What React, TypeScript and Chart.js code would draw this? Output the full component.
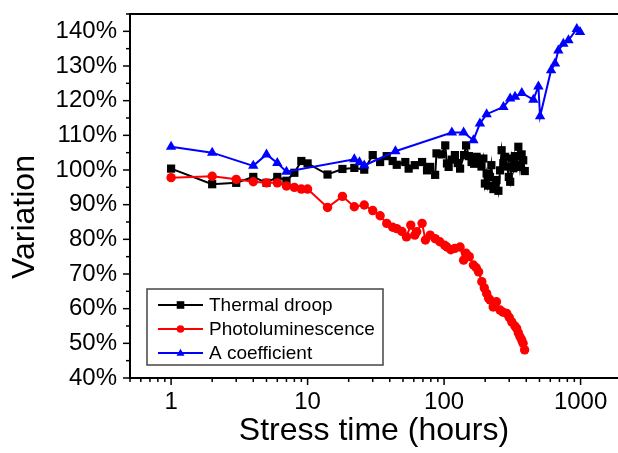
import React, { useEffect, useRef } from 'react';
import { Chart, registerables } from 'chart.js';

Chart.register(...registerables);

const SERIES_NAMES = ['Thermal droop', 'Photoluminescence', 'A coefficient'];
const X_LABEL = 'Stress time (hours)';
const Y_LABEL = 'Variation';
const X_TICKS = [1, 10, 100, 1000];
const Y_TICKS = [40, 50, 60, 70, 80, 90, 100, 110, 120, 130, 140];

const DROOP_T = [1, 2, 3, 4, 5, 6, 7, 8, 9, 10, 14, 18, 22, 26, 30, 34, 38, 42, 45, 52, 55, 61, 69, 75, 79, 86, 88, 96, 102, 105, 108, 114, 120, 126, 131, 140, 145, 152, 159, 166, 173, 180, 188, 194, 199, 205, 210, 217, 222, 230, 235, 242, 250, 257, 264, 272, 280, 290, 298, 305, 313, 322, 330, 340, 350, 360, 370, 380, 390];
const DROOP_V = [100.4, 95.9, 96.3, 98.0, 96.3, 98.0, 96.9, 99.2, 102.6, 101.9, 98.7, 100.3, 100.6, 100.1, 104.3, 102.3, 104.0, 102.6, 101.5, 102.3, 100.4, 101.4, 102.3, 99.9, 100.9, 98.6, 104.8, 104.5, 107.1, 101.9, 100.9, 103.0, 104.3, 102.0, 100.4, 104.3, 107.1, 104.0, 102.3, 101.8, 103.8, 102.6, 101.0, 103.3, 96.1, 99.0, 95.5, 98.0, 101.4, 94.5, 95.2, 97.1, 94.0, 99.9, 105.7, 102.0, 103.8, 101.0, 98.0, 96.6, 103.3, 100.5, 104.0, 101.5, 106.7, 100.9, 104.5, 102.8, 99.7];

const PL_T = [1, 2, 3, 4, 5, 6, 7, 8, 9, 10, 14, 18, 22, 26, 30, 34, 38, 42, 45, 49, 53, 57, 61, 63, 69, 73, 79, 86, 93, 101, 105, 112, 120, 131, 139, 145, 153, 164, 172, 179, 189, 197, 205, 212, 217, 229, 242, 257, 270, 288, 300, 313, 330, 340, 350, 360, 370, 379, 389];
const PL_V = [97.8, 98.2, 97.3, 96.6, 96.3, 96.3, 95.4, 95.0, 94.5, 94.5, 89.2, 92.4, 89.4, 89.9, 88.3, 86.8, 84.6, 83.5, 83.1, 82.3, 80.7, 84.1, 81.2, 82.2, 84.6, 79.8, 81.2, 80.2, 79.3, 78.3, 77.8, 77.0, 77.4, 77.8, 74.0, 76.0, 75.0, 72.6, 71.8, 70.6, 67.8, 66.0, 64.4, 63.0, 62.5, 60.5, 62.0, 59.6, 59.0, 58.6, 57.5, 56.2, 55.0, 54.3, 53.0, 51.9, 51.0, 50.0, 48.1];

const A_T = [1, 2, 4, 5, 6, 7, 22, 24, 26, 44, 114, 139, 164, 183, 205, 272, 305, 331, 371, 451, 491, 505, 608, 650, 687, 748, 815, 938, 991];
const A_V = [106.7, 105.0, 101.2, 104.5, 102.0, 99.5, 103.1, 102.2, 101.3, 105.4, 110.8, 110.8, 108.6, 113.4, 116.1, 118.2, 120.6, 121.1, 122.2, 120.3, 124.1, 115.5, 128.8, 130.7, 134.5, 136.4, 137.4, 140.7, 139.8];

const FONT = "'Liberation Sans', Arial, sans-serif";
const COLORS = ['#000000', '#ff0000', '#0000ff'];
const STYLES = ['rect', 'circle', 'triangle'];

function drawMarker(ctx: CanvasRenderingContext2D, style: string, x: number, y: number, r: number) {
  ctx.beginPath();
  if (style === 'rect') {
    ctx.rect(x - r, y - r, 2 * r, 2 * r);
  } else if (style === 'circle') {
    ctx.arc(x, y, r, 0, Math.PI * 2);
  } else {
    ctx.moveTo(x, y - r * 1.1);
    ctx.lineTo(x + r * 1.05, y + r * 0.75);
    ctx.lineTo(x - r * 1.05, y + r * 0.75);
    ctx.closePath();
  }
  ctx.fill();
}

const decorPlugin = {
  id: 'decor',
  afterDraw(chart: any) {
    const ctx: CanvasRenderingContext2D = chart.ctx;
    const { left, top, right, bottom } = chart.chartArea;
    const xs = chart.scales.x;
    const ys = chart.scales.y;
    ctx.save();
    ctx.strokeStyle = '#000';
    ctx.lineWidth = 2;
    ctx.beginPath();
    ctx.moveTo(left - 1, top);
    ctx.lineTo(right + 2, top);
    ctx.stroke();

    ctx.lineWidth = 1.5;
    for (let v = ys.min; v <= ys.max + 0.001; v += 5) {
      const y = ys.getPixelForValue(v);
      const len = Math.round(v) % 10 === 0 ? 7 : 4;
      ctx.beginPath();
      ctx.moveTo(left - len, y);
      ctx.lineTo(left, y);
      ctx.stroke();
    }
    for (let d = 0.1; d <= 10000; d *= 10) {
      for (let k = 1; k <= 9; k++) {
        const v = k * d;
        if (v < xs.min * 0.999 || v > xs.max) continue;
        const x = xs.getPixelForValue(v);
        const len = k === 1 ? 7 : 4;
        ctx.beginPath();
        ctx.moveTo(x, bottom);
        ctx.lineTo(x, bottom + len);
        ctx.stroke();
      }
    }

    ctx.fillStyle = '#000';
    ctx.font = `32px ${FONT}`;
    ctx.textAlign = 'center';
    ctx.textBaseline = 'middle';
    ctx.translate(25, 217);
    ctx.rotate(-Math.PI / 2);
    ctx.fillText(Y_LABEL, 0, 0);
    ctx.setTransform(1, 0, 0, 1, 0, 0);

    const bx = left + 17;
    const by = bottom - 89;
    const bw = 236;
    const bh = 76;
    ctx.fillStyle = '#fff';
    ctx.fillRect(bx, by, bw, bh);
    ctx.strokeStyle = '#444';
    ctx.lineWidth = 1.5;
    ctx.strokeRect(bx, by, bw, bh);
    ctx.font = `19px ${FONT}`;
    ctx.textAlign = 'left';
    ctx.textBaseline = 'middle';
    chart.data.datasets.forEach((ds: any) => {
      const idx = SERIES_NAMES.indexOf(ds.label);
      const yy = by + 16 + idx * 24;
      ctx.strokeStyle = COLORS[idx];
      ctx.fillStyle = COLORS[idx];
      ctx.lineWidth = 2;
      ctx.beginPath();
      ctx.moveTo(bx + 11, yy);
      ctx.lineTo(bx + 56, yy);
      ctx.stroke();
      drawMarker(ctx, STYLES[idx], bx + 33.5, yy, 3.8);
      ctx.fillStyle = '#000';
      ctx.fillText(ds.label, bx + 62, yy + 1);
    });
    ctx.restore();
  },
};

export default function App() {
  const ref = useRef<HTMLCanvasElement | null>(null);
  useEffect(() => {
    if (!ref.current) return;
    const mk = (ts: number[], vs: number[]) => ts.map((t, i) => ({ x: t, y: vs[i] }));
    const chart = new Chart(ref.current, {
      type: 'scatter',
      data: {
        datasets: [
          {
            label: SERIES_NAMES[0],
            data: mk(DROOP_T, DROOP_V),
            showLine: true,
            borderColor: COLORS[0],
            backgroundColor: COLORS[0],
            borderWidth: 2,
            pointStyle: 'rect',
            pointRadius: 5.8,
            pointBorderWidth: 0,
            order: 2,
          },
          {
            label: SERIES_NAMES[1],
            data: mk(PL_T, PL_V),
            showLine: true,
            borderColor: COLORS[1],
            backgroundColor: COLORS[1],
            borderWidth: 2,
            pointStyle: 'circle',
            pointRadius: 4.7,
            pointBorderWidth: 0,
            order: 1,
          },
          {
            label: SERIES_NAMES[2],
            data: mk(A_T, A_V),
            showLine: true,
            borderColor: COLORS[2],
            backgroundColor: COLORS[2],
            borderWidth: 2,
            pointStyle: 'triangle',
            pointRadius: 6,
            pointBorderWidth: 0,
            order: 0,
          },
        ],
      },
      options: {
        animation: false,
        responsive: false,
        devicePixelRatio: 1,
        events: [],
        layout: { autoPadding: false, padding: { top: 14, left: 0, right: 0, bottom: 0 } },
        plugins: { legend: { display: false }, tooltip: { enabled: false } },
        scales: {
          x: {
            type: 'logarithmic',
            min: 0.5,
            max: 1880,
            afterBuildTicks: (s: any) => {
              s.ticks = X_TICKS.map((v) => ({ value: v }));
            },
            afterFit: (s: any) => {
              s.height = 75;
              s.paddingRight = 0;
              s.paddingLeft = 0;
            },
            grid: { display: false, drawTicks: true, tickLength: 8 },
            border: { display: true, color: '#000', width: 2 },
            ticks: {
              color: '#000',
              font: { family: FONT, size: 24 },
              padding: 2,
              maxRotation: 0,
              autoSkip: false,
              callback: (v: any) => String(v),
            },
            title: {
              display: true,
              text: X_LABEL,
              color: '#000',
              font: { family: FONT, size: 32 },
              padding: { top: 0, bottom: 3 },
            },
          },
          y: {
            type: 'linear',
            min: 40,
            max: 145,
            afterBuildTicks: (s: any) => {
              s.ticks = Y_TICKS.map((v) => ({ value: v }));
            },
            afterFit: (s: any) => {
              s.width = 130;
            },
            grid: { display: false, drawTicks: true, tickLength: 11 },
            border: { display: true, color: '#000', width: 2 },
            ticks: {
              color: '#000',
              font: { family: FONT, size: 24, lineHeight: 1 },
              padding: 2,
              autoSkip: false,
              callback: (v: any) => `${v}%`,
            },
          },
        },
      },
      plugins: [decorPlugin],
    } as any);
    return () => chart.destroy();
  }, []);
  return (
    <div style={{ position: 'fixed', left: 0, top: 0, width: 618, height: 453, background: '#fff' }}>
      <canvas ref={ref} width={618} height={453} style={{ width: 618, height: 453 }} />
    </div>
  );
}
